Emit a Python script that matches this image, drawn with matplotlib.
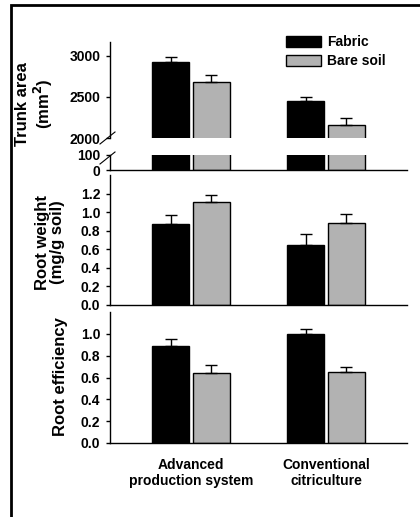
#!/usr/bin/env python3
# plot.py - trunk area, root weight and root efficiency, fabric vs bare soil

import numpy as np
import matplotlib
matplotlib.use('Agg')
import matplotlib.pyplot as plt
from matplotlib.patches import Rectangle
from matplotlib.lines import Line2D

plt.rcParams['font.family'] = ['Liberation Sans', 'DejaVu Sans']
plt.rcParams['font.weight'] = 'bold'
plt.rcParams['axes.linewidth'] = 1.0

# ----------------------------
# Dados
# ----------------------------
systems = ['Advanced\nproduction system', 'Conventional\ncitriculture']
treatments = ['Fabric', 'Bare soil']

trunk_fabric = [2930, 2450]
trunk_fabric_err = [55, 55]
trunk_bare = [2680, 2162]
trunk_bare_err = [90, 80]

weight_fabric = [0.87, 0.65]
weight_fabric_err = [0.10, 0.12]
weight_bare = [1.11, 0.885]
weight_bare_err = [0.07, 0.10]

eff_fabric = [0.89, 1.00]
eff_fabric_err = [0.06, 0.04]
eff_bare = [0.64, 0.648]
eff_bare_err = [0.07, 0.045]

colors = ['black', '#b2b2b2']

# ----------------------------
# Layout
# ----------------------------
W, H = 420, 517
fig = plt.figure(figsize=(W / 100, H / 100), dpi=100)

def fx(px):
    return px / W

def fy(py):
    return 1 - py / H

left, right = 110, 407
ax_top = fig.add_axes([fx(left), fy(138), fx(right - left), fy(42) - fy(138)])
ax_bot = fig.add_axes([fx(left), fy(170), fx(right - left), fy(155) - fy(170)])
ax_w = fig.add_axes([fx(left), fy(305), fx(right - left), fy(175) - fy(305)])
ax_e = fig.add_axes([fx(left), fy(443), fx(right - left), fy(312) - fy(443)])

x = np.arange(1, len(systems) + 1)
off = 0.149
width = 0.275

def draw(ax, fab, fab_err, bare, bare_err, label=True):
    for vals, errs, c, sgn, lab in [(fab, fab_err, colors[0], -1, treatments[0]),
                                    (bare, bare_err, colors[1], 1, treatments[1])]:
        ax.bar(x + sgn * off, vals, width, color=c, edgecolor='black',
               linewidth=1.0, label=lab if label else None,
               yerr=[np.zeros(len(errs)), errs],
               error_kw=dict(ecolor='black', elinewidth=1.0, capsize=4, capthick=1.0))
    ax.set_xlim(0.4, 2.6)
    for s in ['top', 'right']:
        ax.spines[s].set_visible(False)
    ax.tick_params(axis='y', direction='out', length=3, width=1, labelsize=10, pad=4)
    ax.tick_params(axis='x', length=0)
    ax.set_xticks([])

draw(ax_top, trunk_fabric, trunk_fabric_err, trunk_bare, trunk_bare_err)
ax_top.set_ylim(2000, 3170)
ax_top.set_yticks([2000, 2500, 3000])
ax_top.spines['bottom'].set_visible(False)

draw(ax_bot, trunk_fabric, trunk_fabric_err, trunk_bare, trunk_bare_err, label=False)
ax_bot.set_ylim(0, 100)
ax_bot.set_yticks([0, 100])

draw(ax_w, weight_fabric, weight_fabric_err, weight_bare, weight_bare_err, label=False)
ax_w.set_ylim(0, 1.4)
ax_w.set_yticks(np.arange(0, 1.21, 0.2))
ax_w.yaxis.set_major_formatter(matplotlib.ticker.FormatStrFormatter('%.1f'))

draw(ax_e, eff_fabric, eff_fabric_err, eff_bare, eff_bare_err, label=False)
ax_e.set_ylim(0, 1.2)
ax_e.set_yticks(np.arange(0, 1.01, 0.2))
ax_e.yaxis.set_major_formatter(matplotlib.ticker.FormatStrFormatter('%.1f'))
ax_e.set_xticks(x)
ax_e.set_xticklabels(systems, fontsize=10, linespacing=1.2)
ax_e.tick_params(axis='x', length=0, pad=11)

# break marks
for y0 in (144, 164):
    fig.add_artist(Line2D([fx(100), fx(115)], [fy(y0), fy(y0 - 12)],
                          color='black', linewidth=0.8))

# legend
ax_top.legend(loc='upper left', bbox_to_anchor=(fx(286), fy(35)),
              bbox_transform=fig.transFigure, frameon=False, fontsize=10,
              handlelength=2.5, handleheight=0.85, labelspacing=0.35,
              handletextpad=0.45, borderpad=0, borderaxespad=0)

# y labels
fig.text(fx(35), fy(104), 'Trunk area\n(mm$^\\mathbf{2}$)', rotation=90,
         ha='center', va='center', fontsize=12, linespacing=1.05)
fig.text(fx(50), fy(242), 'Root weight\n(mg/g soil)', rotation=90,
         ha='center', va='center', fontsize=12, linespacing=1.05)
fig.text(fx(60), fy(377), 'Root efficiency', rotation=90,
         ha='center', va='center', fontsize=12)

# frame
fig.add_artist(Rectangle((fx(11), -0.05), 1.2, fy(5) + 0.05, transform=fig.transFigure,
                         fill=False, edgecolor='black', linewidth=2))

fig.savefig('out.png', dpi=100)
